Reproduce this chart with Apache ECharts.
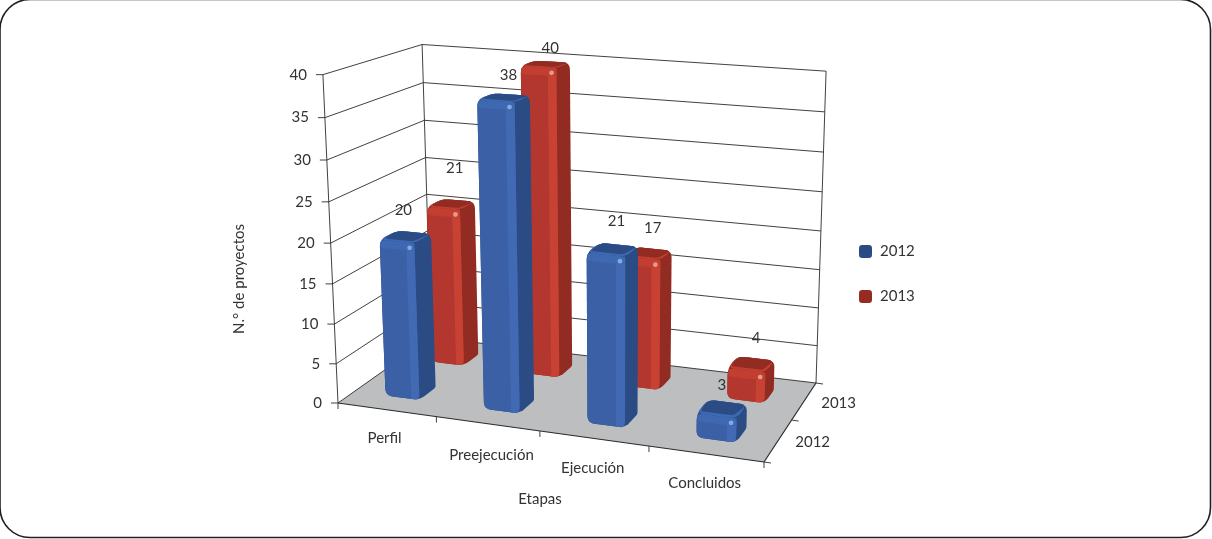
<!DOCTYPE html>
<html>
<head>
<meta charset="utf-8">
<style>html,body{margin:0;padding:0;background:#fff}#chart{width:1212px;height:539px}</style>
<script src="https://cdn.jsdelivr.net/npm/echarts@6/dist/echarts.min.js"></script>
</head>
<body>
<div id="chart"></div>
<script>
// Project counts per stage and year
const categories = ['Perfil', 'Preejecución', 'Ejecución', 'Concluidos'];
const years = ['2012', '2013'];
const values2012 = [20, 38, 21, 3];
const values2013 = [21, 40, 17, 4];
const yTicks = [0, 5, 10, 15, 20, 25, 30, 35, 40];

// Screen outline of the 3D box: floor corners, where the verticals converge, and box height
const FLOOR = [[338, 403], [764, 462], [816, 383], [431, 337.3]];
const VERTICAL_VANISH = [618, 6500];
const HEIGHT_K = -0.0511;
const BAR_HALF = 0.175;
const BAR_TOP_INSET = 0.985;
const TEXT = '#333333';
const FONT = 'Lato, "Open Sans", sans-serif';
const FONT_SIZE = 15;

// Pixel nudges of each value label from the top of its bar
const labelNudge2012 = [[-2, -27], [5, -23], [4, -29], [0, -24]];
const labelNudge2013 = [[4, -36], [5, -16], [5, -25], [5, -26]];
// Pixel nudges of the stage names below the front edge
const stageNudge = [[-2, 28], [4, 31], [-1, 30], [-1, 29]];

const PALETTE = [
  { base: '#3b60a6', light: '#4169b4', band: '#3f68b2', dark: '#2b4b85', dot: '#7fabe0', legend: '#2b4b85' },
  { base: '#b3372e', light: '#c84234', band: '#c23e31', dark: '#922b22', dot: '#e8988c', legend: '#962b22' }
];

function homography(q) {
  const [[x0, y0], [x1, y1], [x2, y2], [x3, y3]] = q;
  const dx1 = x1 - x2, dx2 = x3 - x2, dx3 = x0 - x1 + x2 - x3;
  const dy1 = y1 - y2, dy2 = y3 - y2, dy3 = y0 - y1 + y2 - y3;
  const den = dx1 * dy2 - dx2 * dy1;
  const g = (dx3 * dy2 - dx2 * dy3) / den;
  const h = (dx1 * dy3 - dx3 * dy1) / den;
  const a = x1 - x0 + g * x1, b = x3 - x0 + h * x3;
  const d = y1 - y0 + g * y1, e = y3 - y0 + h * y3;
  return (s, r) => [a * s + b * r + x0, d * s + e * r + y0, g * s + h * r + 1];
}
const floorMap = homography(FLOOR);

// u: 0..categories, v: 0..years (0 is the front), t: 0..1 of the value axis
function project(u, v, t) {
  const s = u / categories.length, r = v / years.length;
  const f = floorMap(s, r);
  // Slight height falloff towards the far right keeps the back wall at its drawn size
  const k = HEIGHT_K * t * (1 - 0.025 * s * s - 0.006 * r);
  const w = f[2] + k;
  return [(f[0] + k * VERTICAL_VANISH[0]) / w, (f[1] + k * VERTICAL_VANISH[1]) / w];
}
const mix = (p, q, k) => [p[0] + (q[0] - p[0]) * k, p[1] + (q[1] - p[1]) * k];

// Replaces the listed corners of a polygon with short curved runs
function rounded(points, radii) {
  const out = [];
  const n = points.length;
  points.forEach((p, i) => {
    const rad = radii[i];
    if (!rad) { out.push(p); return; }
    const prev = points[(i + n - 1) % n], next = points[(i + 1) % n];
    const lp = Math.hypot(prev[0] - p[0], prev[1] - p[1]);
    const ln = Math.hypot(next[0] - p[0], next[1] - p[1]);
    const a = mix(p, prev, Math.min(0.5, rad / lp));
    const b = mix(p, next, Math.min(0.5, rad / ln));
    for (let k = 0; k <= 6; k++) {
      const w = k / 6;
      out.push([
        (1 - w) * (1 - w) * a[0] + 2 * w * (1 - w) * p[0] + w * w * b[0],
        (1 - w) * (1 - w) * a[1] + 2 * w * (1 - w) * p[1] + w * w * b[1]
      ]);
    }
  });
  return out;
}

function poly(points, fill) {
  return { type: 'polygon', shape: { points }, style: { fill } };
}
function line(p, q, width) {
  return {
    type: 'line',
    shape: { x1: p[0], y1: p[1], x2: q[0], y2: q[1] },
    style: { stroke: '#2b2b2b', lineWidth: width || 0.9 }
  };
}
function label(text, p, align, rotation) {
  return {
    type: 'text',
    x: p[0], y: p[1], rotation: rotation || 0,
    style: { text, fill: TEXT, font: FONT_SIZE + 'px ' + FONT, align: align || 'center', verticalAlign: 'middle' }
  };
}

function renderFrame(params, api) {
  const cs = params.coordSys;
  const tOf = (val) => (cs.y + cs.height - api.coord([0, val])[1]) / cs.height;
  const nC = categories.length, nY = years.length;
  const kids = [poly([project(0, 0, 0), project(nC, 0, 0), project(nC, nY, 0), project(0, nY, 0)], '#bcbec0')];

  yTicks.forEach((val) => {
    const t = tOf(val);
    const a = project(0, 0, t), b = project(0, nY, t), c = project(nC, nY, t);
    kids.push(line(a, b), line(b, c));
    kids.push(line(a, [a[0] - 7, a[1]]));
    kids.push(label(String(val), [a[0] - 16, a[1]], 'right'));
  });
  kids.push(line(project(0, 0, 0), project(0, 0, 1)));
  kids.push(line(project(0, nY, 0), project(0, nY, 1)));
  kids.push(line(project(nC, nY, 0), project(nC, nY, 1)));
  kids.push(line(project(0, 0, 0), project(nC, 0, 0), 1.2));
  kids.push(line(project(nC, 0, 0), project(nC, nY, 0), 1.2));

  for (let i = 0; i <= nC; i++) {
    const p = project(i, 0, 0);
    kids.push(line(p, [p[0], p[1] + 6]));
  }
  for (let j = 0; j <= nY; j++) {
    const p = project(nC, j, 0);
    kids.push(line(p, [p[0] + 7, p[1] + 1]));
  }
  categories.forEach((name, i) => {
    const p = project(i + 0.5, 0, 0);
    kids.push(label(name, [p[0] + stageNudge[i][0], p[1] + stageNudge[i][1]], 'center'));
  });
  years.forEach((name, j) => {
    const p = project(nC, j + 0.5, 0);
    kids.push(label(name, [p[0] + 17, p[1] + 2], 'left'));
  });
  kids.push(label('Etapas', [540, 499], 'center'));
  kids.push(label('N.° de proyectos', [239, 279], 'center', Math.PI / 2));
  return { type: 'group', children: kids };
}

function makeBarRenderer(row, nudges) {
  const col = PALETTE[row];
  return function (params, api) {
    const cs = params.coordSys;
    const cat = api.value(0);
    const pt = api.coord([cat, api.value(1)]);
    const t = BAR_TOP_INSET * (cs.y + cs.height - pt[1]) / cs.height;
    const u0 = cat + 0.5 - BAR_HALF, u1 = cat + 0.5 + BAR_HALF;
    const v0 = row + 0.5 - BAR_HALF, v1 = row + 0.5 + BAR_HALF;

    const A = project(u0, v0, 0), B = project(u1, v0, 0), E = project(u1, v1, 0);
    const D = project(u0, v0, t), C = project(u1, v0, t), F = project(u1, v1, t), G = project(u0, v1, t);

    const R = 7;
    const kids = [
      poly(rounded([A, B, E, F, G, D], [R, R, 2, R, R, R]), col.dark),
      poly(rounded([A, B, C, D], [R, R, R, R]), col.base)
    ];
    const dropPx = 8;
    const D2 = [D[0] + 1, D[1] + dropPx], C2 = [C[0], C[1] + dropPx];
    // Lit strip down the right of the front face
    const sL = 0.76;
    const stripTop = mix(D, C, sL), stripBot = mix(A, B, sL);
    kids.push(poly(rounded([stripBot, B, C, stripTop], [0, R, 0, 0]), col.light));
    // Lit rim along the top of the front face
    kids.push(poly(rounded([D2, C2, C, D], [0, 0, R, R]), col.band));
    // Top face
    kids.push(poly(rounded([D, C, F, G], [R, R, R, R]), col.band));
    const inC = mix(mix(C, F, 0.18), mix(D, G, 0.18), 0.12);
    const inD = mix(mix(D, G, 0.18), mix(C, F, 0.18), 0.04);
    kids.push(poly(rounded([inD, inC, F, G], [3, 3, R, R]), col.dark));
    // Highlight spot at the near corner
    const spot = mix(D2, C2, 0.86);
    kids.push({ type: 'circle', shape: { cx: spot[0], cy: spot[1] - 3, r: 2.4 }, style: { fill: col.dot } });
    // Value label
    const n = nudges[cat];
    const mid = mix(D, F, 0.5);
    kids.push(label(String(api.value(1)), [mid[0] + n[0], mid[1] + n[1]], 'center'));
    return { type: 'group', children: kids };
  };
}

const toRows = (vals) => vals.map((v, i) => [i, v]);

const chart = echarts.init(document.getElementById('chart'));
chart.setOption({
  animation: false,
  backgroundColor: '#ffffff',
  // Plain scales; the 3D box is drawn on top of them by the custom series
  grid: { left: 323, right: 431, top: 75, bottom: 136 },
  xAxis: { type: 'category', data: categories, show: false },
  yAxis: { type: 'value', min: 0, max: 40, interval: 5, show: false },
  legend: {
    orient: 'vertical', left: 859, top: 244, padding: 0, itemWidth: 13, itemHeight: 13, itemGap: 30,
    icon: 'roundRect', data: years,
    textStyle: { color: TEXT, fontFamily: FONT, fontSize: FONT_SIZE, padding: [0, 0, 0, 3] }
  },
  graphic: [{
    type: 'rect', silent: true, z: -10,
    shape: { x: 0, y: -0.5, width: 1210.5, height: 538, r: 30 },
    style: { fill: '#ffffff', stroke: '#231f20', lineWidth: 1.6 }
  }],
  series: [
    { type: 'custom', name: 'frame', coordinateSystem: 'cartesian2d', silent: true, z: 1, data: [[0, 0]], renderItem: renderFrame, clip: false },
    { type: 'custom', name: years[1], coordinateSystem: 'cartesian2d', z: 2, data: toRows(values2013), itemStyle: { color: PALETTE[1].legend }, renderItem: makeBarRenderer(1, labelNudge2013), clip: false },
    { type: 'custom', name: years[0], coordinateSystem: 'cartesian2d', z: 3, data: toRows(values2012), itemStyle: { color: PALETTE[0].legend }, renderItem: makeBarRenderer(0, labelNudge2012), clip: false }
  ]
});
</script>
</body>
</html>
